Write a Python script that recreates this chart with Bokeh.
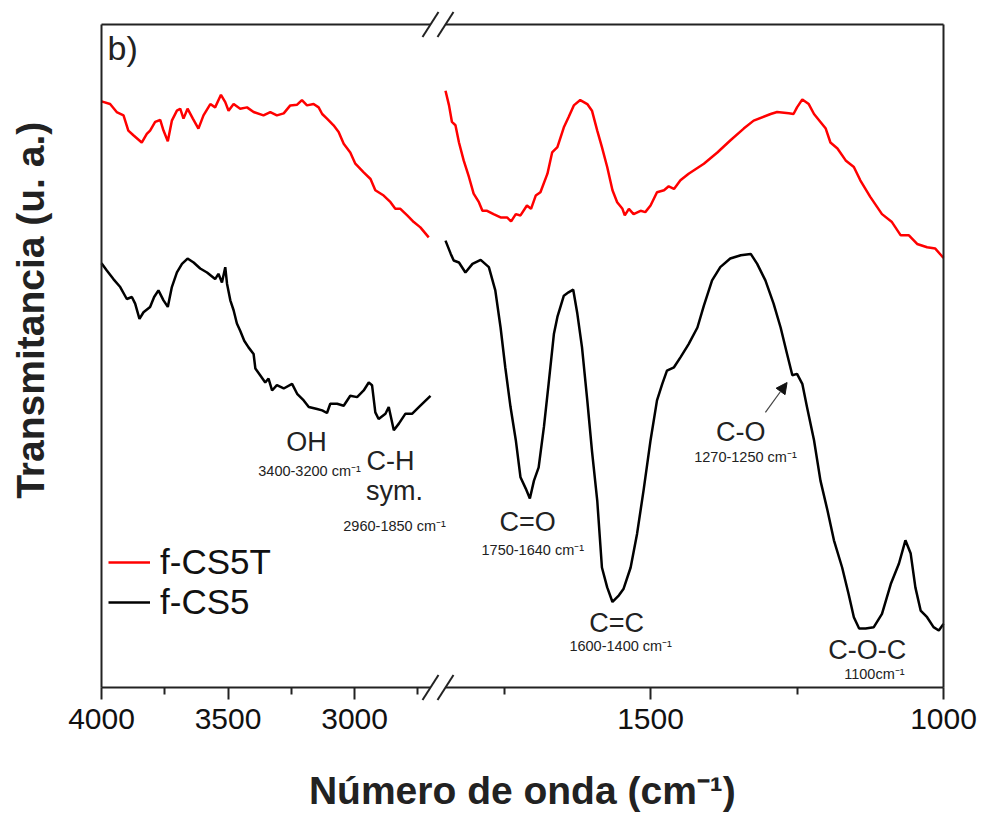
import math
from bokeh.plotting import figure
from bokeh.models import (Range1d, LinearAxis, FixedTicker, Label, Arrow,
                          NormalHead, Legend, LegendItem)
from bokeh.embed import file_html
from bokeh.resources import INLINE

# ---------------- data (wavenumber cm-1, transmittance a.u.) ----------------
red_left_wn = [4000, 3966, 3940, 3913, 3894, 3874, 3841, 3821, 3808, 3788,
               3768, 3755, 3738, 3722, 3702, 3689, 3676, 3660, 3639, 3617,
               3597, 3570, 3551, 3528, 3511, 3498, 3478, 3452, 3425, 3399,
               3360, 3333, 3307, 3280, 3254, 3227, 3208, 3188, 3162, 3142,
               3128, 3109, 3083, 3063, 3043, 3017, 2997, 2964, 2937, 2918,
               2885, 2858, 2839, 2819, 2792, 2766, 2740, 2707]
red_left_t = [88.4, 88.0, 86.8, 86.3, 84.0, 83.3, 82.2, 83.5, 84.0, 85.3,
              85.6, 84.0, 82.4, 85.5, 87.0, 87.3, 85.8, 87.3, 85.8, 84.3,
              86.3, 88.0, 87.5, 89.4, 88.3, 87.0, 88.0, 87.3, 87.5, 86.8,
              86.3, 86.8, 86.3, 86.6, 87.8, 87.9, 88.6, 87.8, 88.0, 87.5,
              86.5, 85.8, 84.8, 83.8, 82.0, 80.7, 79.0, 77.7, 76.7, 75.0,
              74.2, 73.2, 72.2, 72.2, 71.2, 70.2, 69.4, 67.9]

black_left_wn = [4000, 3979, 3953, 3926, 3900, 3880, 3867, 3850, 3834, 3808,
                 3792, 3775, 3755, 3738, 3722, 3702, 3682, 3660, 3636, 3610,
                 3583, 3551, 3538, 3524, 3511, 3504, 3491, 3478, 3465, 3452,
                 3436, 3419, 3399, 3392, 3373, 3353, 3340, 3326, 3307, 3280,
                 3247, 3227, 3201, 3181, 3148, 3128, 3109, 3096, 3069, 3043,
                 3017, 2990, 2964, 2944, 2931, 2918, 2905, 2878, 2865, 2845,
                 2825, 2799, 2772, 2740, 2700]
black_left_t = [64.0, 62.9, 61.6, 60.4, 58.6, 58.9, 57.9, 55.6, 56.6, 57.4,
                58.9, 59.9, 58.4, 57.4, 60.4, 62.6, 63.9, 64.7, 64.1, 63.2,
                62.6, 61.6, 62.4, 61.1, 63.4, 60.9, 58.4, 56.9, 54.9, 53.8,
                52.3, 51.3, 50.3, 48.1, 47.1, 46.0, 46.6, 44.8, 45.6, 45.1,
                45.8, 44.3, 43.3, 42.3, 42.0, 41.8, 41.4, 42.8, 42.8, 42.5,
                44.0, 43.8, 44.8, 46.0, 45.6, 41.5, 40.5, 41.3, 42.3, 38.8,
                39.8, 41.3, 41.3, 42.5, 44.0]

red_right_wn = [1850, 1844, 1839, 1833, 1827, 1819, 1810, 1802, 1793, 1787,
                1779, 1768, 1756, 1745, 1738, 1730, 1722, 1711, 1704, 1696,
                1688, 1676, 1668, 1659, 1648, 1640, 1631, 1620, 1608, 1600,
                1591, 1583, 1574, 1565, 1557, 1548, 1544, 1537, 1529, 1517,
                1509, 1500, 1489, 1477, 1469, 1460, 1449, 1435, 1409, 1386,
                1364, 1341, 1324, 1295, 1284, 1264, 1256, 1250, 1241, 1230,
                1221, 1210, 1201, 1193, 1181, 1167, 1153, 1142, 1125, 1105,
                1088, 1073, 1059, 1045, 1028, 1014, 1004, 1000]
red_right_t = [90.0, 87.8, 85.3, 84.8, 82.2, 79.5, 77.0, 74.5, 73.2, 71.9,
               71.9, 71.4, 70.9, 70.9, 70.3, 71.4, 71.2, 72.7, 72.2, 74.2,
               74.7, 77.5, 80.7, 81.5, 84.5, 86.0, 87.8, 88.6, 88.0, 87.0,
               84.0, 81.5, 78.5, 75.0, 73.2, 72.2, 71.2, 72.2, 71.4, 71.9,
               71.7, 72.7, 74.7, 75.0, 75.6, 75.2, 76.5, 77.5, 79.0, 80.7,
               82.5, 84.3, 85.5, 86.5, 86.8, 86.6, 86.5, 87.5, 88.7, 88.0,
               86.5, 85.3, 84.3, 82.2, 81.3, 79.5, 78.5, 76.5, 74.0, 71.4,
               70.2, 68.2, 68.2, 66.9, 66.4, 66.2, 65.2, 64.8]

black_right_wn = [1850, 1841, 1836, 1827, 1816, 1804, 1790, 1776, 1765, 1756,
                  1748, 1739, 1730, 1722, 1713, 1706, 1699, 1691, 1682, 1674,
                  1665, 1659, 1648, 1640, 1632, 1625, 1617, 1608, 1600, 1591,
                  1583, 1574, 1565, 1554, 1546, 1534, 1523, 1512, 1500, 1489,
                  1480, 1472, 1460, 1449, 1435, 1420, 1409, 1395, 1381, 1364,
                  1346, 1329, 1318, 1304, 1290, 1278, 1267, 1258, 1250, 1241,
                  1233, 1221, 1210, 1198, 1187, 1173, 1162, 1153, 1144, 1133,
                  1119, 1105, 1090, 1076, 1065, 1056, 1048, 1039, 1028, 1017,
                  1008, 1000]
black_right_t = [67.4, 65.4, 64.4, 64.1, 62.6, 63.9, 64.5, 63.4, 59.9, 54.3,
                 48.3, 42.3, 37.3, 31.7, 30.0, 28.5, 31.2, 33.2, 39.3, 45.8,
                 53.3, 55.9, 59.1, 59.6, 60.0, 56.4, 51.3, 43.3, 35.7, 28.2,
                 18.1, 15.1, 12.9, 13.9, 14.9, 18.1, 23.2, 29.7, 37.3, 43.3,
                 45.8, 47.8, 48.3, 49.8, 51.8, 54.3, 57.6, 61.4, 63.4, 64.7,
                 65.2, 65.4, 63.9, 61.4, 57.9, 54.3, 50.3, 47.1, 47.3, 45.8,
                 42.3, 37.3, 31.2, 26.7, 22.2, 18.1, 14.1, 10.6, 8.9, 8.9,
                 9.1, 11.1, 15.6, 18.7, 22.2, 20.2, 15.1, 11.6, 10.6, 9.1,
                 8.6, 9.6]

left_segment = (4000, 2700)
right_segment = (1850, 1000)
left_major_ticks = [4000, 3500, 3000]
left_minor_ticks = [3750, 3250, 2750]
right_major_ticks = [1500, 1000]
right_minor_ticks = [1750, 1250]
y_box = (0, 100)

series_names = ["f-CS5T", "f-CS5"]
series_colors = ["#ff0000", "#000000"]

# ---------------- layout (canvas pixels) ----------------
W, H = 985, 816
BOX_L, BOX_R, BOX_T, BOX_B = 101, 943, 24, 687   # drawn axes box
LEFT_END_PX, RIGHT_START_PX = 430, 445           # axis break

lu = (left_segment[0] - left_segment[1]) / (LEFT_END_PX - BOX_L)      # units / px
ru = (right_segment[0] - right_segment[1]) / (BOX_R - RIGHT_START_PX)
tu = (y_box[1] - y_box[0]) / (BOX_B - BOX_T)

# the frame covers the whole canvas; the box is drawn by fixed-location axes
x_left_range = Range1d(left_segment[0] + BOX_L * lu, left_segment[0] - (W - BOX_L) * lu)
x_right_range = Range1d(right_segment[1] + BOX_R * ru, right_segment[1] - (W - BOX_R) * ru)
y_range = Range1d(y_box[0] - (H - BOX_B) * tu, y_box[1] + BOX_T * tu)

AX = "#222222"
FONT = "Liberation Sans"
TXT = "#222222"

p = figure(width=W, height=H, x_range=x_left_range, y_range=y_range,
           output_backend="svg", toolbar_location=None,
           min_border_left=0, min_border_top=0, min_border_bottom=0,
           min_border_right=0, y_axis_location="left")
p.extra_x_ranges = {"r": x_right_range}
p.title.visible = False
p.xgrid.visible = False
p.ygrid.visible = False
p.outline_line_color = None
p.background_fill_color = "white"
p.border_fill_color = "white"


def tick_axis(ax, major, minor):
    ax.ticker = FixedTicker(ticks=major, minor_ticks=minor)
    ax.axis_line_color = AX
    ax.axis_line_width = 2
    ax.major_tick_line_color = AX
    ax.minor_tick_line_color = AX
    ax.major_tick_line_width = 2
    ax.minor_tick_line_width = 2
    ax.major_tick_in = 0
    ax.minor_tick_in = 0
    ax.major_tick_out = 12
    ax.minor_tick_out = 7
    ax.major_label_text_font = FONT
    ax.major_label_text_font_size = "30px"
    ax.major_label_text_color = "#111111"
    ax.major_label_standoff = 9


def line_axis(ax):
    ax.ticker = FixedTicker(ticks=[])
    ax.major_tick_line_color = None
    ax.minor_tick_line_color = None
    ax.major_tick_out = 0
    ax.minor_tick_out = 0
    ax.major_label_text_font_size = "0px"
    ax.axis_line_color = AX
    ax.axis_line_width = 2


# --- lines ---
r_red = p.line(red_left_wn, red_left_t, line_color=series_colors[0], line_width=2.5)
r_blk = p.line(black_left_wn, black_left_t, line_color=series_colors[1], line_width=2.5)
p.line(red_right_wn, red_right_t, line_color=series_colors[0], line_width=2.5, x_range_name="r")
p.line(black_right_wn, black_right_t, line_color=series_colors[1], line_width=2.5, x_range_name="r")

# --- axes (box with a break) ---
ax_bl = p.xaxis[0]
tick_axis(ax_bl, left_major_ticks, left_minor_ticks)
ax_bl.fixed_location = y_box[0]
ax_bl.bounds = left_segment

ax_br = LinearAxis(x_range_name="r")
tick_axis(ax_br, right_major_ticks, right_minor_ticks)
ax_br.fixed_location = y_box[0]
ax_br.bounds = right_segment
p.add_layout(ax_br, "below")

ax_tl = LinearAxis()
line_axis(ax_tl)
ax_tl.fixed_location = y_box[1]
ax_tl.bounds = left_segment
p.add_layout(ax_tl, "above")

ax_tr = LinearAxis(x_range_name="r")
line_axis(ax_tr)
ax_tr.fixed_location = y_box[1]
ax_tr.bounds = right_segment
p.add_layout(ax_tr, "above")

ax_l = p.yaxis[0]
line_axis(ax_l)
ax_l.fixed_location = left_segment[0]
ax_l.bounds = y_box

ax_r = LinearAxis(x_range_name="r")
line_axis(ax_r)
ax_r.fixed_location = right_segment[1]
ax_r.bounds = y_box
p.add_layout(ax_r, "right")

# --- break marks "//" (screen px from frame bottom-left) ---
for bx in (LEFT_END_PX, RIGHT_START_PX):
    for by in (BOX_T, BOX_B):
        sy = H - by
        p.add_layout(Arrow(x_start=bx - 8, y_start=sy - 12.5, x_end=bx + 8, y_end=sy + 12.5,
                           start_units="screen", end_units="screen", end=None,
                           line_color=AX, line_width=2))

# --- legend ---
legend = Legend(items=[LegendItem(label=series_names[0], renderers=[r_red]),
                       LegendItem(label=series_names[1], renderers=[r_blk])],
                location=(108, H - 622), orientation="vertical",
                label_text_font=FONT, label_text_font_size="35px",
                label_text_color="#111111", glyph_width=42, glyph_height=38,
                label_height=38, label_standoff=10, spacing=0, padding=0,
                margin=0, border_line_color=None, background_fill_alpha=0)
p.add_layout(legend)


def text(x, y, s, size, bold=False, align="center", rng="default", angle=0.0):
    p.add_layout(Label(x=x, y=y, text=s, x_range_name=rng,
                       text_font=FONT, text_font_size=size, text_color=TXT,
                       text_font_style="bold" if bold else "normal",
                       text_align=align, text_baseline="middle", angle=angle))


text(3976, 96.4, "b)", "34px", align="left")
text(3190, 37.0, "OH", "27px")
text(3178, 32.7, "3400-3200 cm⁻¹", "14.5px")
text(2858, 34.1, "C-H", "27px")
text(2842, 29.7, "sym.", "27px")
text(2842, 24.4, "2960-1850 cm⁻¹", "14.5px")

text(1710, 24.9, "C=O", "27px", rng="r")
text(1701, 20.8, "1750-1640 cm⁻¹", "14.5px", rng="r")
text(1558, 9.8, "C=C", "27px", rng="r")
text(1551, 6.2, "1600-1400 cm⁻¹", "14.5px", rng="r")
text(1346, 38.6, "C-O", "27px", rng="r")
text(1338, 34.7, "1270-1250 cm⁻¹", "14.5px", rng="r")
text(1130, 5.6, "C-O-C", "27px", rng="r")
text(1118, 2.1, "1100cm⁻¹", "14.5px", rng="r")

p.add_layout(Arrow(x_start=1304, y_start=41.5, x_end=1267, y_end=46.0, x_range_name="r",
                   line_color="#444444", line_width=1.2,
                   end=NormalHead(size=11, fill_color="#111111", line_color="#111111")))

# --- axis titles ---
text(4280, 56.9, "Transmitancia (u. a.)", "39px", bold=True, angle=math.pi / 2)
text(2337, -15.5, "Número de onda (cm⁻¹)", "39px", bold=True)

open("out.html", "w").write(file_html(p, INLINE))
